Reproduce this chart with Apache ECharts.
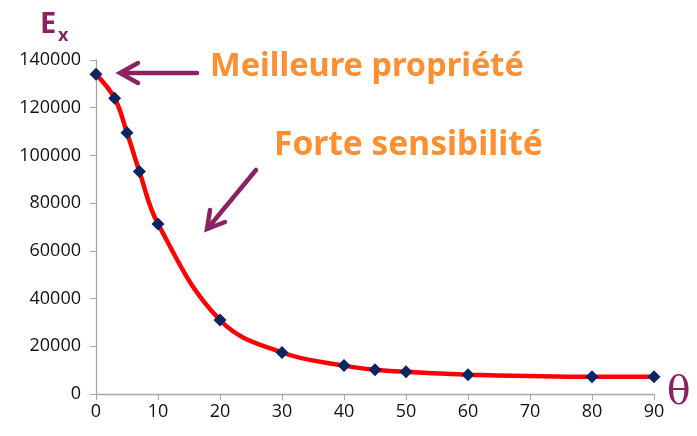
<!DOCTYPE html>
<html>
<head>
<meta charset="utf-8">
<script src="https://cdn.jsdelivr.net/npm/echarts@6/dist/echarts.min.js"></script>
<style>
  html, body { margin: 0; padding: 0; background: #fff; }
  #chart { width: 697px; height: 436px; }
</style>
</head>
<body>
<div id="chart"></div>
<script>
// angle theta (deg) vs modulus Ex
var theta = [0, 3, 5, 7, 10, 20, 30, 40, 45, 50, 60, 80, 90];
var ex = [134000, 124000, 109500, 93300, 71300, 31000, 17400, 11900, 10200, 9300, 8100, 7200, 7200];

var xTicks = { min: 0, max: 90, step: 10 };
var yTicks = { min: 0, max: 140000, step: 20000 };

var chart = echarts.init(document.getElementById('chart'));

var points = theta.map(function (t, i) { return [t, ex[i]]; });

var purple = '#8B2262';
var orange = '#FF8F33';
var labelFont = { fontFamily: 'Open Sans', fontSize: 18, color: '#111' };

var axisLine = { lineStyle: { color: '#A6A6A6', width: 1.3 } };

var option = {
  backgroundColor: '#fff',
  animation: false,
  grid: { left: 96, right: 43, top: 60, bottom: 42 },
  xAxis: {
    type: 'value',
    min: xTicks.min,
    max: xTicks.max,
    interval: xTicks.step,
    axisLine: axisLine,
    axisTick: { show: true, length: 6, lineStyle: { color: '#A6A6A6' } },
    axisLabel: Object.assign({ margin: 9 }, labelFont),
    splitLine: { show: false }
  },
  yAxis: {
    type: 'value',
    min: yTicks.min,
    max: yTicks.max,
    interval: yTicks.step,
    axisLine: { show: true, lineStyle: axisLine.lineStyle },
    axisTick: { show: true, length: 6, lineStyle: { color: '#A6A6A6' } },
    axisLabel: Object.assign({ margin: 15, formatter: function (v) { return String(v); } }, labelFont),
    splitLine: { show: false }
  },
  series: [{
    type: 'line',
    data: points,
    smooth: 0.4,
    symbol: 'diamond',
    symbolSize: 13,
    lineStyle: { color: '#FF0000', width: 4.5 },
    itemStyle: { color: '#0B2462', borderWidth: 0 },
    z: 3
  }],
  graphic: [
    {
      type: 'text', left: 40, top: 10,
      style: { text: 'E', fontFamily: 'Open Sans', fontSize: 29, fontWeight: 'bold', fill: purple }
    },
    {
      type: 'text', left: 58, top: 27,
      style: { text: 'x', fontFamily: 'Open Sans', fontSize: 18, fontWeight: 'bold', fill: purple }
    },
    {
      type: 'text', left: 667, top: 374,
      style: { text: 'θ', fontFamily: 'DejaVu Serif', fontSize: 39, fill: purple }
    },
    {
      type: 'text', left: 210, top: 50,
      style: { text: 'Meilleure propriété', fontFamily: 'Comic Sans MS, Noto Sans', fontSize: 32.5, fontWeight: 'bold', fill: orange }
    },
    {
      type: 'text', left: 274, top: 128,
      style: { text: 'Forte sensibilité', fontFamily: 'Comic Sans MS, Noto Sans', fontSize: 33.5, fontWeight: 'bold', fill: orange }
    },
    {
      type: 'polyline',
      shape: { points: [[197, 73], [121, 73]] },
      style: { stroke: purple, lineWidth: 4.5, lineCap: 'round' }
    },
    {
      type: 'polyline',
      shape: { points: [[138, 63], [120, 73], [138, 83]] },
      style: { stroke: purple, lineWidth: 4.5, fill: null, lineCap: 'round', lineJoin: 'miter' }
    },
    {
      type: 'polyline',
      shape: { points: [[256, 170], [208, 228]] },
      style: { stroke: purple, lineWidth: 4.5, lineCap: 'round' }
    },
    {
      type: 'polyline',
      shape: { points: [[210, 210], [207, 229], [225, 222]] },
      style: { stroke: purple, lineWidth: 4.5, fill: null, lineCap: 'round', lineJoin: 'miter' }
    }
  ]
};

chart.setOption(option);
</script>
</body>
</html>
